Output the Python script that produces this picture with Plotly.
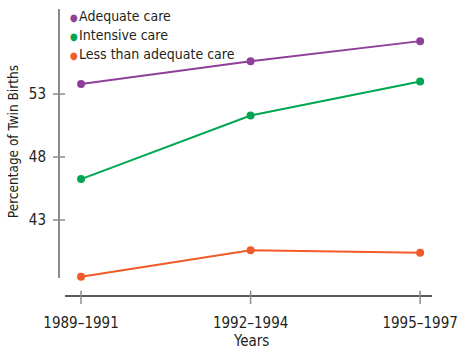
import plotly.graph_objects as go

categories = ["1989–1991", "1992–1994", "1995–1997"]
adequate = [53.8, 55.6, 57.2]
intensive = [46.25, 51.3, 54.0]
less_adequate = [38.5, 40.6, 40.4]
y_ticks = [43, 48, 53]

series_names = ["Adequate care", "Intensive care", "Less than adequate care"]
series_values = [adequate, intensive, less_adequate]
colors = ["#8E3F97", "#00A651", "#F15A29"]

FONT = "DejaVu Sans Condensed, Liberation Sans, Arial, sans-serif"
TXT = "#231F20"

x_idx = list(range(len(categories)))

fig = go.Figure()
for name, vals, c in zip(series_names, series_values, colors):
    fig.add_trace(go.Scatter(
        x=x_idx, y=vals, mode="lines+markers", name=name,
        line=dict(color=c, width=2), marker=dict(color=c, size=8),
        showlegend=False, cliponaxis=False))

shapes = []
shapes.append(dict(type="line", xref="paper", yref="paper", x0=0, x1=0,
                   y0=0.0627, y1=1, line=dict(color="#8C8C8C", width=2)))
for v in y_ticks:
    shapes.append(dict(type="line", xref="paper", yref="y", x0=-0.0161, x1=0.0161,
                       y0=v, y1=v, line=dict(color="#8C8C8C", width=1.5)))
shapes.append(dict(type="line", xref="paper", yref="paper", x0=0.0161, x1=1,
                   y0=0, y1=0, line=dict(color="#231F20", width=1.5)))
for i in x_idx:
    shapes.append(dict(type="line", xref="x", yref="paper", x0=i, x1=i,
                       y0=0.0185, y1=-0.0279, line=dict(color="#8C8C8C", width=1.5)))

annotations = []
legend_y = [0.9756, 0.9094, 0.8432]
for name, c, ly in zip(series_names, colors, legend_y):
    annotations.append(dict(
        xref="paper", yref="paper", x=(68 - 59) / 373, y=ly, xanchor="left", yanchor="middle",
        showarrow=False,
        text=f"<span style='color:{c};font-size:10px'>●</span><span style='font-size:4px'> </span>{name}",
        font=dict(family=FONT, size=14, color=TXT)))
annotations.append(dict(xref="paper", yref="paper", x=(13 - 59) / 373, y=0.536,
                        xanchor="center", yanchor="middle", textangle=-90, showarrow=False,
                        text="Percentage of Twin Births", font=dict(family=FONT, size=13.5, color=TXT)))
annotations.append(dict(xref="x", yref="paper", x=1, y=(296 - 341) / 287,
                        xanchor="center", yanchor="middle", showarrow=False,
                        text="Years", font=dict(family=FONT, size=15, color=TXT)))

fig.update_layout(
    width=459, height=352,
    margin=dict(l=59, r=27, t=9, b=56),
    paper_bgcolor="white", plot_bgcolor="white",
    font=dict(family=FONT, size=15, color=TXT),
    xaxis=dict(range=[-0.13, 2.07], tickvals=x_idx, ticktext=categories, automargin=False,
               showgrid=False, zeroline=False, showline=False, ticks="",
               ticklabelstandoff=16, tickfont=dict(family=FONT, size=15, color=TXT)),
    yaxis=dict(range=[36.97, 59.75], tickvals=y_ticks, showgrid=False, zeroline=False,
               showline=False, ticks="", ticklabelstandoff=12, automargin=False,
               tickfont=dict(family=FONT, size=15, color=TXT)),
    shapes=shapes, annotations=annotations,
)

fig.write_html("out.html")
